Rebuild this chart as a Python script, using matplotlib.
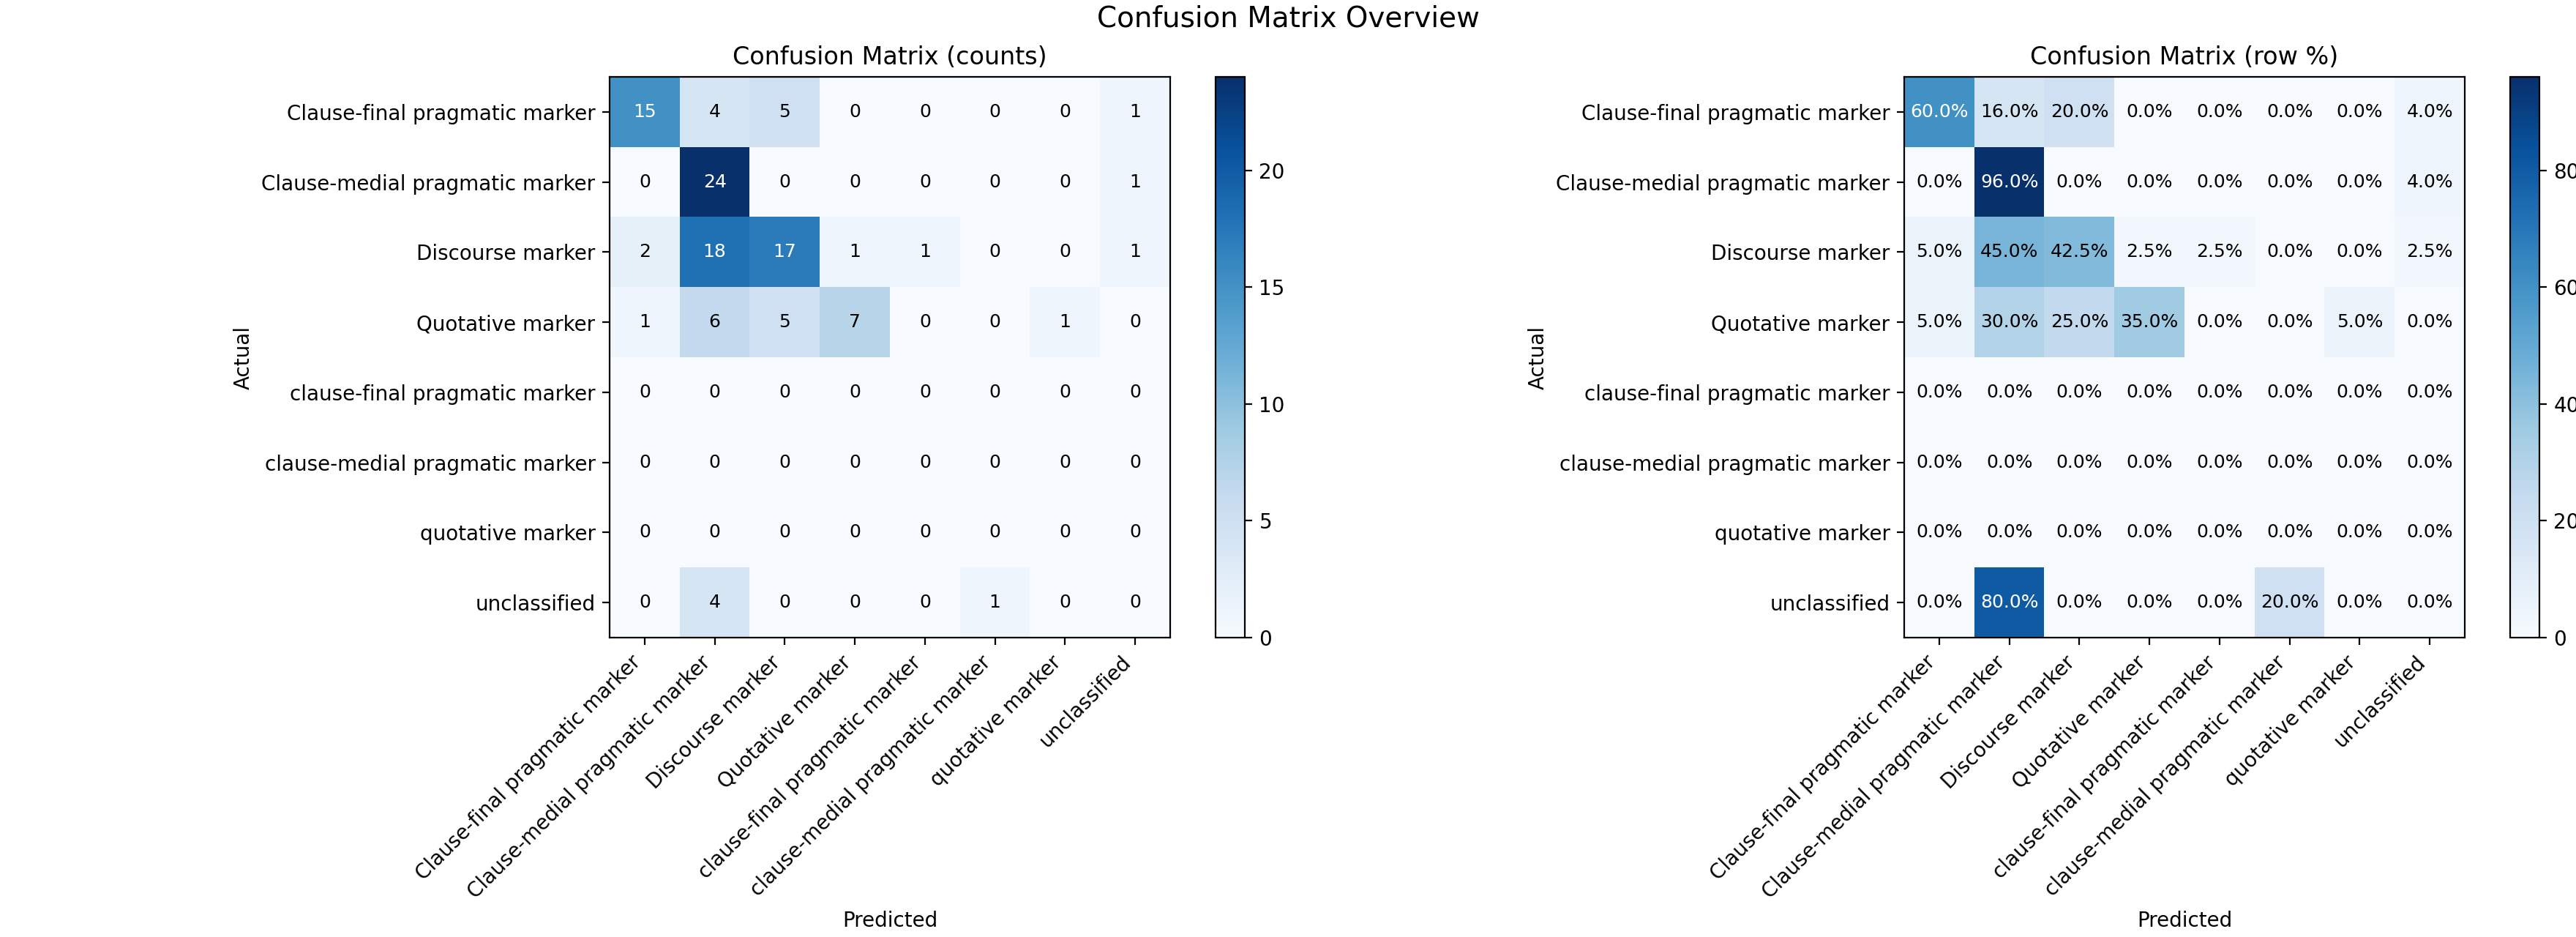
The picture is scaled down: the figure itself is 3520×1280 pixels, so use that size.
import numpy as np
import matplotlib
matplotlib.use("Agg")
import matplotlib.pyplot as plt


labels = [
    "Clause-final pragmatic marker",
    "Clause-medial pragmatic marker",
    "Discourse marker",
    "Quotative marker",
    "clause-final pragmatic marker",
    "clause-medial pragmatic marker",
    "quotative marker",
    "unclassified",
]

# rows = actual, cols = predicted
counts = [
    [15, 4, 5, 0, 0, 0, 0, 1],
    [0, 24, 0, 0, 0, 0, 0, 1],
    [2, 18, 17, 1, 1, 0, 0, 1],
    [1, 6, 5, 7, 0, 0, 1, 0],
    [0, 0, 0, 0, 0, 0, 0, 0],
    [0, 0, 0, 0, 0, 0, 0, 0],
    [0, 0, 0, 0, 0, 0, 0, 0],
    [0, 4, 0, 0, 0, 1, 0, 0],
]


def row_percent(cm):
    sums = cm.sum(axis=1, keepdims=True)
    out = np.zeros_like(cm, dtype=float)
    np.divide(cm * 100.0, sums, out=out, where=sums > 0)
    return out


def draw_matrix(fig, ax, cax, cm, title, fmt):
    im = ax.imshow(cm, cmap="Blues", interpolation="nearest")
    fig.colorbar(im, cax=cax)
    ax.set_title(title)
    n = len(labels)
    ax.set_xticks(np.arange(n))
    ax.set_yticks(np.arange(n))
    ax.set_xticklabels(labels, rotation=45, ha="right")
    ax.set_yticklabels(labels)
    ax.set_xlabel("Predicted")
    ax.set_ylabel("Actual")

    thresh = cm.max() / 2.0
    for i in range(n):
        for j in range(n):
            v = cm[i, j]
            ax.text(j, i, fmt(v), ha="center", va="center", fontsize=9,
                    color="white" if v > thresh else "black")


def main():
    cm = np.array(counts)
    pct = row_percent(cm)

    fig = plt.figure(figsize=(17.6, 6.4), dpi=200)
    W, H = 3520.0, 1280.0
    bottom = (H - 871) / H
    height = 766 / H

    ax1 = fig.add_axes([833 / W, bottom, 766 / W, height])
    cax1 = fig.add_axes([1661 / W, bottom, 40 / W, height])
    ax2 = fig.add_axes([2602 / W, bottom, 766 / W, height])
    cax2 = fig.add_axes([3430 / W, bottom, 40 / W, height])

    draw_matrix(fig, ax1, cax1, cm, "Confusion Matrix (counts)",
                lambda v: "%d" % v)
    draw_matrix(fig, ax2, cax2, pct, "Confusion Matrix (row %)",
                lambda v: "%.1f%%" % v)

    fig.suptitle("Confusion Matrix Overview", fontsize=14, y=0.995)
    fig.savefig("out.png", dpi=200)


if __name__ == "__main__":
    main()
